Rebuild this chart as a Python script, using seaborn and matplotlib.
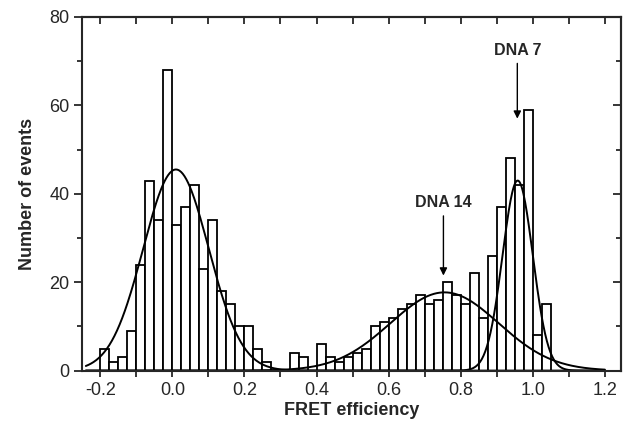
import numpy as np
import pandas as pd
import seaborn as sns
import matplotlib.pyplot as plt
from matplotlib.ticker import MultipleLocator

# histogram: left edge of each 0.025-wide bin and number of events in it
bin_width = 0.025
bin_left = [-0.2 + i * bin_width for i in range(50)]
counts = [5, 2, 3, 9, 24, 43, 34, 68, 33, 37,
          42, 23, 34, 18, 15, 10, 10, 5, 2, 0,
          0, 4, 3, 0, 6, 3, 2, 3, 4, 5,
          10, 11, 12, 14, 15, 17, 15, 16, 20, 17,
          15, 22, 12, 26, 37, 48, 42, 59, 8, 15]

# gaussian fits (amplitude, centre, width)
fit_amp = [45.5, 17.7, 43.0]
fit_mu = [0.01, 0.755, 0.958]
fit_sigma = [0.091, 0.15, 0.042]

labels = ["DNA 14", "DNA 7"]
label_x = [0.752, 0.957]
label_y = [38, 72.5]
arrow_top = [35, 69.5]
arrow_tip = [21.5, 57]

sns.set_style("ticks")
plt.rcParams['font.family'] = ['Liberation Sans', 'DejaVu Sans']

fig = plt.figure(figsize=(6.23, 4.25), dpi=100)
ax = fig.add_axes([0.132, 0.128, 0.865, 0.832])

df = pd.DataFrame({"x": [b + bin_width / 2 for b in bin_left], "n": counts})
edges = bin_left + [bin_left[-1] + bin_width]
sns.histplot(data=df, x="x", weights="n", bins=edges, color="white",
             edgecolor="black", linewidth=1.3, alpha=1, ax=ax)

xs = np.linspace(-0.24, 1.2, 600)
for a, m, s in zip(fit_amp, fit_mu, fit_sigma):
    sns.lineplot(x=xs, y=a * np.exp(-(xs - m) ** 2 / (2 * s ** 2)),
                 color="black", linewidth=1.4, ax=ax)

for t, lx, ly, at, tip in zip(labels, label_x, label_y, arrow_top, arrow_tip):
    ax.text(lx, ly, t, ha="center", va="center", fontsize=11.5, fontweight="bold")
    ax.annotate("", xy=(lx, tip), xytext=(lx, at),
                arrowprops=dict(arrowstyle="-|>", color="black", lw=1.0,
                                mutation_scale=11, shrinkA=0, shrinkB=0))

ax.set_xlim(-0.25, 1.245)
ax.set_ylim(0, 80)
ax.xaxis.set_major_locator(MultipleLocator(0.2))
ax.xaxis.set_minor_locator(MultipleLocator(0.1))
ax.yaxis.set_major_locator(MultipleLocator(20))
ax.yaxis.set_minor_locator(MultipleLocator(10))
ax.set_xticks(np.arange(-0.2, 1.21, 0.2))
ax.set_xticklabels(["-0.2", "0.0", "0.2", "0.4", "0.6", "0.8", "1.0", "1.2"])
ax.tick_params(which="major", direction="out", length=6, width=1.3, labelsize=13, pad=3)
ax.tick_params(axis="x", which="both", length=4.5, width=1.3, pad=4)
ax.tick_params(axis="y", which="minor", direction="out", length=3.5, width=1.3)

top = ax.secondary_xaxis("top")
top.xaxis.set_major_locator(MultipleLocator(0.2))
top.xaxis.set_minor_locator(MultipleLocator(0.1))
top.tick_params(which="both", direction="in", length=5, width=1.3, labeltop=False)
right = ax.secondary_yaxis("right")
right.yaxis.set_major_locator(MultipleLocator(20))
right.yaxis.set_minor_locator(MultipleLocator(10))
right.tick_params(which="major", direction="in", length=6, width=1.3, labelright=False)
right.tick_params(which="minor", direction="in", length=3.5, width=1.3)

for sp in ax.spines.values():
    sp.set_visible(True)
    sp.set_linewidth(1.5)
for sec in (top, right):
    for sp in sec.spines.values():
        sp.set_linewidth(1.5)

ax.set_xlabel("FRET efficiency", fontsize=13, fontweight="bold", labelpad=2)
ax.set_ylabel("Number of events", fontsize=13, fontweight="bold", labelpad=10)

fig.savefig("out.png", dpi=100)
